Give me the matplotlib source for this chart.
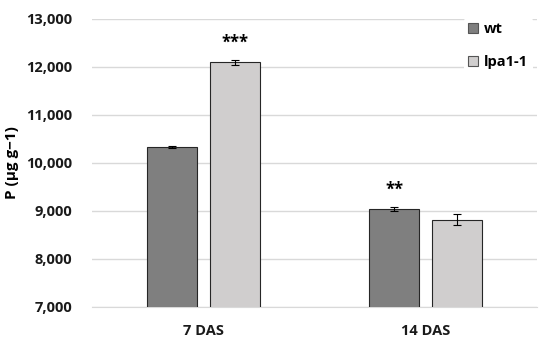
import numpy as np
import matplotlib.pyplot as plt

plt.rcParams['font.family'] = ['Open Sans', 'DejaVu Sans']
plt.rcParams['font.weight'] = 'bold'
plt.rcParams['axes.labelweight'] = 'bold'

groups = ['7 DAS', '14 DAS']
wt = [10340, 9040]
wt_err = [20, 50]
lpa = [12100, 8820]
lpa_err = [50, 110]
wt_marks = ['', '**']
lpa_marks = ['***', '']

fig = plt.figure(figsize=(5.5, 3.47), dpi=100)
ax = fig.add_axes([92 / 550, 40 / 347, 445 / 550, 288 / 347])

x = np.arange(len(groups))
w = 0.225
off = 0.142
ekw = dict(elinewidth=0.8, capthick=0.8, ecolor='black')
ax.bar(x - off, wt, w, yerr=wt_err, capsize=3, color='#7f7f7f',
       edgecolor='#262626', linewidth=0.8, error_kw=ekw, label='wt', zorder=3)
ax.bar(x + off, lpa, w, yerr=lpa_err, capsize=3, color='#d0cece',
       edgecolor='#262626', linewidth=0.8, error_kw=ekw, label='lpa1-1', zorder=3)

for i in range(len(groups)):
    if wt_marks[i]:
        ax.text(x[i] - off, wt[i] + wt_err[i] + 170, wt_marks[i], ha='center',
                va='bottom', fontsize=12)
    if lpa_marks[i]:
        ax.text(x[i] + off, lpa[i] + lpa_err[i] + 170, lpa_marks[i], ha='center',
                va='bottom', fontsize=12)

ax.set_xlim(-0.5, 1.5)
ax.set_ylim(7000, 13000)
ax.set_yticks(range(7000, 13001, 1000))
ax.set_yticklabels([f'{v:,}' for v in range(7000, 13001, 1000)])
ax.set_xticks(x)
ax.set_xticklabels(groups)
ax.tick_params(length=0, labelsize=10.5, colors='#1a1a1a')
ax.tick_params(axis='y', pad=14)
ax.tick_params(axis='x', pad=12)
ax.grid(axis='y', color='#d9d9d9', linewidth=1, zorder=0)
for s in ['top', 'right', 'left']:
    ax.spines[s].set_visible(False)
ax.spines['bottom'].set_color('#d9d9d9')
ax.set_ylabel('P (µg g−1)', fontsize=11, labelpad=5)

leg = ax.legend(loc='upper right', bbox_to_anchor=(1.0, 1.02), frameon=True,
                facecolor='white', edgecolor='none', framealpha=1,
                fontsize=10.5, handlelength=0.7, handleheight=0.7,
                labelspacing=1.3, handletextpad=0.4, borderaxespad=0.3,
                borderpad=0.3)
for h in leg.legend_handles:
    h.set_edgecolor('#555555')

fig.savefig('out.png', dpi=100)
